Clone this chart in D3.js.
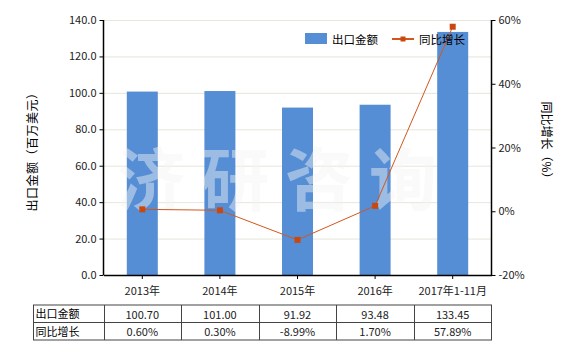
<!DOCTYPE html>
<html>
<head>
<meta charset="utf-8">
<script src="https://cdnjs.cloudflare.com/ajax/libs/d3/7.8.5/d3.min.js"></script>
<style>
body { margin: 0; background: #fff; }
text { font-family: "Microsoft YaHei", "Noto Sans CJK SC", sans-serif; }
</style>
</head>
<body>
<script>
var categories = ["2013年", "2014年", "2015年", "2016年", "2017年1-11月"];
var exportValues = [100.70, 101.00, 91.92, 93.48, 133.45];
var growthValues = [0.60, 0.30, -8.99, 1.70, 57.89];
var exportLabels = ["100.70", "101.00", "91.92", "93.48", "133.45"];
var growthLabels = ["0.60%", "0.30%", "-8.99%", "1.70%", "57.89%"];
var leftTicks = [0, 20, 40, 60, 80, 100, 120, 140];
var rightTicks = [-20, 0, 20, 40, 60];

var width = 580, height = 350;
var pLeft = 103.5, pRight = 491.5, pTop = 20, pBottom = 275;
var barColor = "#558ed5", lineColor = "#d2571d", markColor = "#c9480f";

var svg = d3.select("body").append("svg")
    .attr("width", width)
    .attr("height", height);

var x = d3.scaleBand().domain(categories).range([pLeft, pRight]);
var yL = d3.scaleLinear().domain([0, 140]).range([pBottom, pTop]);
var yR = d3.scaleLinear().domain([-20, 60]).range([pBottom, pTop]);

// grid
svg.append("g").selectAll("line")
    .data(leftTicks.slice(1))
    .enter().append("line")
    .attr("x1", pLeft).attr("x2", pRight)
    .attr("y1", function(d) { return yL(d) + 0.5; })
    .attr("y2", function(d) { return yL(d) + 0.5; })
    .attr("stroke", "#e6e6da").attr("stroke-width", 1);

// bars
var bw = 31;
svg.append("g").selectAll("rect")
    .data(exportValues)
    .enter().append("rect")
    .attr("x", function(d, i) { return x(categories[i]) + x.bandwidth() / 2 - bw / 2; })
    .attr("y", function(d) { return yL(d); })
    .attr("width", bw)
    .attr("height", function(d) { return pBottom - yL(d); })
    .attr("fill", barColor);

// watermark
svg.append("text")
    .attr("x", 285).attr("y", 205)
    .attr("text-anchor", "middle")
    .attr("font-size", "68px")
    .attr("font-weight", "bold")
    .attr("letter-spacing", "16px")
    .attr("fill", "#f4f4f4")
    .attr("opacity", 0.45)
    .text("济研咨询");

// line
var line = d3.line()
    .x(function(d, i) { return x(categories[i]) + x.bandwidth() / 2; })
    .y(function(d) { return yR(d); });
svg.append("path")
    .datum(growthValues)
    .attr("d", line)
    .attr("fill", "none")
    .attr("stroke", lineColor)
    .attr("stroke-width", 1);
svg.append("g").selectAll("rect")
    .data(growthValues)
    .enter().append("rect")
    .attr("x", function(d, i) { return x(categories[i]) + x.bandwidth() / 2 - 3; })
    .attr("y", function(d) { return yR(d) - 3; })
    .attr("width", 6).attr("height", 6)
    .attr("fill", markColor);

// axes
var axL = svg.append("g")
    .attr("transform", "translate(" + pLeft + ",0)")
    .call(d3.axisLeft(yL).tickValues(leftTicks).tickSize(4).tickFormat(d3.format(".1f")));
var axR = svg.append("g")
    .attr("transform", "translate(" + pRight + ",0)")
    .call(d3.axisRight(yR).tickValues(rightTicks).tickSize(4).tickFormat(function(d) { return d + "%"; }));
var axB = svg.append("g")
    .attr("transform", "translate(0," + pBottom + ")")
    .call(d3.axisBottom(x).tickSize(4).tickSizeOuter(0));
[axL, axR, axB].forEach(function(a) {
    a.selectAll("path").attr("stroke", "#000").attr("stroke-width", 1.5);
    a.selectAll("line").attr("stroke", "#000");
    a.selectAll("text").attr("font-size", "11px").attr("fill", "#222")
        .attr("font-family", "Tahoma, 'DejaVu Sans', sans-serif");
});
axL.select(".domain").attr("d", "M0," + pTop + "V" + pBottom);
axR.select(".domain").attr("d", "M0," + pTop + "V" + pBottom);
axB.selectAll("text").attr("dy", "1.2em").attr("font-family", "'Noto Sans CJK SC', sans-serif");

// axis titles
svg.append("text")
    .attr("transform", "translate(37,149) rotate(-90)")
    .attr("text-anchor", "middle")
    .attr("font-size", "12px")
    .attr("letter-spacing", "0.5px")
    .text("出口金额（百万美元）");
svg.append("text")
    .attr("transform", "translate(542,143) rotate(90)")
    .attr("text-anchor", "middle")
    .attr("font-size", "12px")
    .text("同比增长（%）");

// legend
svg.append("rect").attr("x", 305).attr("y", 33).attr("width", 22).attr("height", 11).attr("fill", barColor);
svg.append("text").attr("x", 332).attr("y", 43.5).attr("font-size", "11.5px").text("出口金额");
svg.append("line").attr("x1", 392).attr("x2", 414).attr("y1", 39).attr("y2", 39)
    .attr("stroke", lineColor).attr("stroke-width", 2);
svg.append("rect").attr("x", 400.5).attr("y", 36.5).attr("width", 5).attr("height", 5).attr("fill", markColor);
svg.append("text").attr("x", 419).attr("y", 43.5).attr("font-size", "11.5px").text("同比增长");

// table
var tTop = 305, tMid = 322.5, tBot = 340, tLeft = 33.5;
var tg = svg.append("g").attr("stroke", "#444").attr("stroke-width", 1).attr("fill", "none");
tg.append("rect").attr("x", tLeft).attr("y", tTop).attr("width", pRight - tLeft).attr("height", tBot - tTop);
tg.append("line").attr("x1", tLeft).attr("x2", pRight).attr("y1", tMid).attr("y2", tMid);
tg.selectAll("line.c")
    .data(categories)
    .enter().append("line").attr("class", "c")
    .attr("x1", function(d) { return Math.round(x(d)) + 0.5; })
    .attr("x2", function(d) { return Math.round(x(d)) + 0.5; })
    .attr("y1", tTop).attr("y2", tBot);

svg.append("text").attr("x", tLeft + 2).attr("y", tTop + 13).attr("font-size", "11px").text("出口金额");
svg.append("text").attr("x", tLeft + 2).attr("y", tMid + 13).attr("font-size", "11px").text("同比增长");
svg.append("g").selectAll("text")
    .data(exportLabels)
    .enter().append("text")
    .attr("x", function(d, i) { return x(categories[i]) + x.bandwidth() / 2; })
    .attr("y", tTop + 13.5)
    .attr("text-anchor", "middle")
    .attr("font-size", "11px")
    .attr("font-family", "Tahoma, 'DejaVu Sans', sans-serif")
    .attr("fill", "#222")
    .text(function(d) { return d; });
svg.append("g").selectAll("text")
    .data(growthLabels)
    .enter().append("text")
    .attr("x", function(d, i) { return x(categories[i]) + x.bandwidth() / 2; })
    .attr("y", tMid + 13.5)
    .attr("text-anchor", "middle")
    .attr("font-size", "11px")
    .attr("font-family", "Tahoma, 'DejaVu Sans', sans-serif")
    .attr("fill", "#222")
    .text(function(d) { return d; });
</script>
</body>
</html>
